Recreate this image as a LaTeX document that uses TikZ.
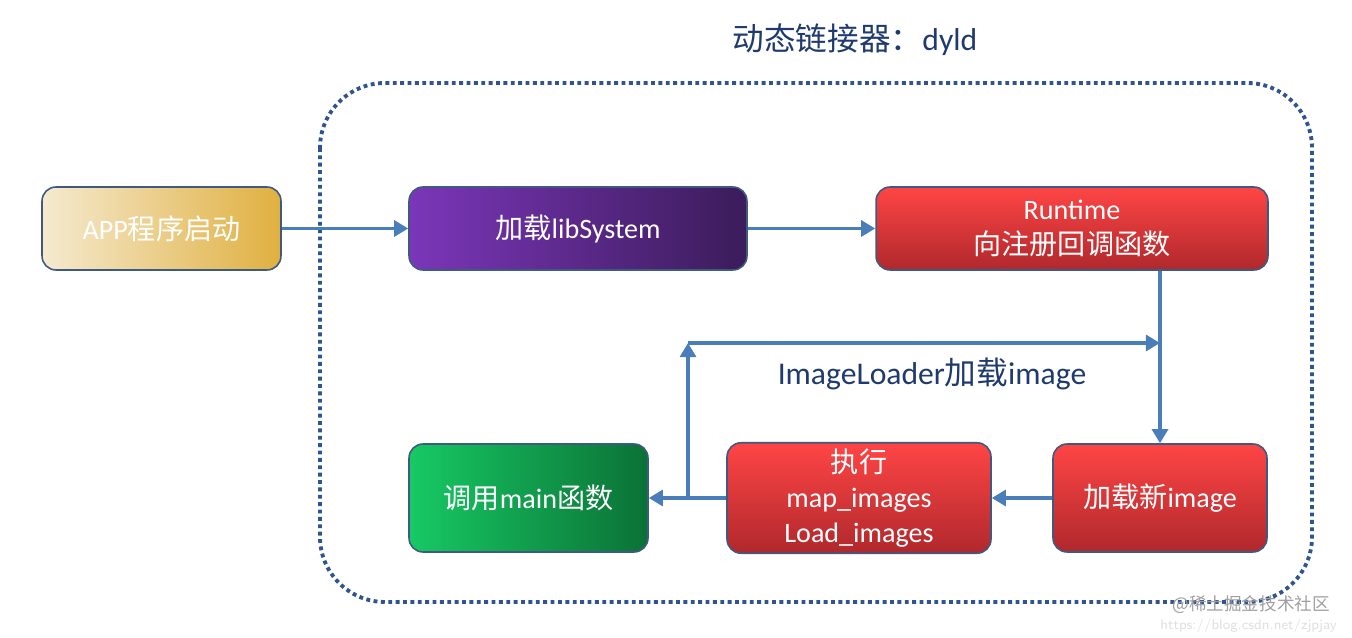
\documentclass[tikz,border=0pt]{standalone}
\usepackage{fontspec}
\setmainfont{Carlito}
\newfontfamily\cjk{Noto Sans CJK SC}
\usetikzlibrary{arrows.meta}
\definecolor{boxline}{HTML}{3F5A82}
\definecolor{flowblue}{HTML}{4A7EBB}
\definecolor{framedot}{HTML}{2F5490}
\definecolor{navy}{HTML}{1F3A6E}
\definecolor{goldL}{HTML}{F5EAD0}
\definecolor{goldR}{HTML}{E0B040}
\definecolor{purpleL}{HTML}{7B36B9}
\definecolor{purpleR}{HTML}{3B1C5A}
\definecolor{redT}{HTML}{FF4545}
\definecolor{redB}{HTML}{B0282C}
\definecolor{greenL}{HTML}{17C964}
\definecolor{greenR}{HTML}{0B7136}
\tikzset{
	box/.style={draw=boxline, line width=0.9pt, rounded corners=0.28cm, minimum height=1.66cm, text=white, align=center, font=\fontsize{16}{20}\selectfont},
	tallbox/.style={box, minimum height=2.16cm},
	redbox/.style={top color=redT, bottom color=redB},
	flow/.style={draw=flowblue, line width=2pt, -{Triangle[length=8pt,width=9pt]}},
}
\begin{document}
\begin{tikzpicture}[x=0.02cm,y=-0.02cm]
	\useasboundingbox (0,0) rectangle (1352,638);
	% dyld frame
	\draw[framedot, line width=2.2pt, dash pattern=on 2.2pt off 2pt, rounded corners=1.3cm] (320,83) rectangle (1312,602);
	\node[text=navy, font=\fontsize{18}{22}\selectfont] (title) at (855,40) {{\cjk 动态链接器：}dyld};

	\node[box, minimum width=4.78cm, left color=goldL, right color=goldR] (app) at (161.5,228.5) {APP{\cjk 程序启动}};
	\node[box, minimum width=6.76cm, left color=purpleL, right color=purpleR] (libsys) at (578,228.5) {{\cjk 加载}libSystem};
	\node[box, redbox, minimum width=7.84cm] (runtime) at (1072,228.5) {Runtime\\{\cjk 向注册回调函数}};
	\node[tallbox, redbox, minimum width=4.28cm] (newimg) at (1160,498) {{\cjk 加载新}image};
	\node[tallbox, redbox, minimum width=5.28cm] (exec) at (859,498) {{\cjk 执行}\\map\_images\\Load\_images};
	\node[tallbox, minimum width=4.78cm, left color=greenL, right color=greenR] (callmain) at (528.5,498) {{\cjk 调用}main{\cjk 函数}};

	\draw[flow] (app) -- (libsys);
	\draw[flow] (libsys) -- (runtime);
	\draw[flow] (runtime.south -| newimg) -- (newimg);
	\draw[flow] (newimg) -- (exec);
	\draw[flow] (exec) -- (callmain);

	% image loading loop
	\coordinate (split) at (688,0 |- exec);
	\coordinate (corner) at (688,343);
	\coordinate (joint) at (corner -| newimg);
	\draw[flow] (split) -- (corner);
	\draw[flow] (corner) -- (joint);
	\node[text=navy, font=\fontsize{18}{22}\selectfont] (looplabel) at (932,374) {ImageLoader{\cjk 加载}image};

	\node[anchor=east, text=gray!75, font=\fontsize{10}{12}\selectfont] (mark) at (1336,605) {\cjk @稀土掘金技术社区};
	\node[anchor=east, text=gray!25, font=\sffamily\fontsize{8}{10}\selectfont] (url) at (1343,626) {https://blog.csdn.net/zjpjay};
\end{tikzpicture}
\end{document}
